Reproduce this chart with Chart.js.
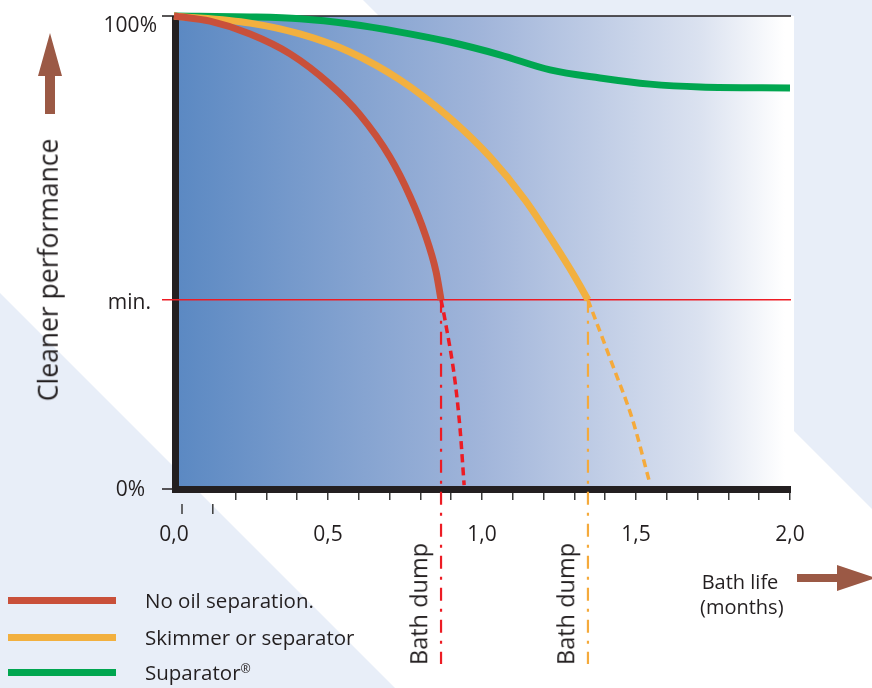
<!DOCTYPE html>
<html>
<head>
<meta charset="utf-8">
<title>Cleaner performance vs bath life</title>
<script src="https://cdn.jsdelivr.net/npm/chart.js@4.4.0/dist/chart.umd.min.js"></script>
<style>
    body { margin: 0; background: #fff; font-family: 'Open Sans', sans-serif; color: #231f20; }
    #wrap { position: relative; width: 872px; height: 688px; overflow: hidden; }
    #chart { position: absolute; left: 0; top: 0; }
    .txt { position: absolute; white-space: nowrap; line-height: 1; }
    .yl { font-size: 21px; transform: translate(-100%, -50%); }
    .rot { transform: translate(-50%, -50%) rotate(-90deg); }
    .swatch { position: absolute; left: 8px; width: 108px; height: 7px; }
    .leg { font-size: 20.5px; transform: translateY(-50%); left: 145px; }
    .reg { font-size: 0.6em; vertical-align: 0.55em; }
</style>
</head>
<body>
<div id="wrap">
    <canvas id="chart" width="872" height="688"></canvas>
    <div class="txt rot" style="left:48px; top:270px; font-size:26.5px;">Cleaner performance</div>
    <div class="txt yl" id="lbl100" style="left:157px;">100%</div>
    <div class="txt yl" id="lblMin" style="left:151px;">min.</div>
    <div class="txt yl" id="lbl0" style="left:145px;">0%</div>
    <div class="txt rot dump" style="top:604px; font-size:23.5px;">Bath dump</div>
    <div class="txt rot dump" style="top:604px; font-size:23.5px;">Bath dump</div>
    <div class="txt" style="left:700px; top:569px; width:80px; font-size:20px; text-align:center; line-height:25px;">Bath life<br>(months)</div>
    <div id="legend"></div>
</div>

<script>
// valores (x em meses, y em % de performance)
const monthLabels = [0, 0.5, 1.0, 1.5, 2.0];
const minLevel = 40;

const noSepMonths = [0, 0.117, 0.247, 0.377, 0.506, 0.604, 0.701, 0.766, 0.815, 0.851, 0.867];
const noSepPerf = [100, 98.9, 96.2, 92.0, 85.6, 79.1, 70.2, 61.9, 53.9, 45.9, 40];
const noSepAfterMonths = [0.867, 0.88, 0.912, 0.929, 0.942];
const noSepAfterPerf = [40, 35.7, 23.0, 12.5, 0.8];

const skimMonths = [0, 0.247, 0.409, 0.571, 0.734, 0.896, 1.026, 1.140, 1.237, 1.302, 1.344];
const skimPerf = [100, 98.5, 96.2, 92.4, 86.5, 78.4, 70.2, 61.1, 51.6, 44.8, 40];
const skimAfterMonths = [1.344, 1.424, 1.489, 1.545];
const skimAfterPerf = [40, 26.2, 14.6, 1.2];

const supMonths = [0, 0.247, 0.409, 0.571, 0.734, 0.896, 1.058, 1.221, 1.383, 1.545, 1.708, 2.0];
const supPerf = [100, 99.8, 99.4, 98.3, 96.6, 94.5, 91.8, 88.6, 86.9, 85.6, 85.0, 84.8];

const dumpMonths = [0.867, 1.344];
const seriesNames = ['No oil separation.', 'Skimmer or separator', 'Suparator®'];
const seriesColors = ['#c9503a', '#f2b03f', '#00a650'];
const dumpColors = ['#ed1c24', '#f5aa3b'];

const pts = (xs, ys) => xs.map((x, i) => ({ x: x, y: ys[i] }));

const decor = {
    id: 'decor',
    beforeDraw(chart) {
        const ctx = chart.ctx;
        const xs = chart.scales.x, ys = chart.scales.y;
        ctx.save();
        ctx.fillStyle = '#fff';
        ctx.fillRect(0, 0, chart.width, chart.height);

        // faixas azul-claro do fundo
        ctx.fillStyle = '#e8eef8';
        ctx.beginPath();
        ctx.moveTo(0, 293); ctx.lineTo(395, 688); ctx.lineTo(0, 688);
        ctx.fill();
        ctx.beginPath();
        ctx.moveTo(363, 0); ctx.lineTo(872, 0); ctx.lineTo(872, 509);
        ctx.fill();

        // área do gráfico em degradê
        const left = xs.getPixelForValue(0) - 2, right = xs.getPixelForValue(2) + 4;
        const top = ys.getPixelForValue(100), bottom = ys.getPixelForValue(0);
        const g = ctx.createLinearGradient(left, 0, right, 0);
        g.addColorStop(0, '#5a88c2');
        g.addColorStop(0.5, '#a1b5da');
        g.addColorStop(0.85, '#dbe2f0');
        g.addColorStop(0.985, '#ffffff');
        g.addColorStop(1, '#ffffff');
        ctx.fillStyle = g;
        ctx.fillRect(left, top, right - left, bottom - top);

        // setas
        ctx.fillStyle = '#9b5945';
        ctx.beginPath();
        ctx.moveTo(50, 33); ctx.lineTo(62, 76); ctx.lineTo(55, 76); ctx.lineTo(55, 114);
        ctx.lineTo(45, 114); ctx.lineTo(45, 76); ctx.lineTo(38, 76);
        ctx.fill();
        ctx.beginPath();
        ctx.moveTo(797, 574); ctx.lineTo(837, 574); ctx.lineTo(837, 565); ctx.lineTo(876, 578);
        ctx.lineTo(837, 591); ctx.lineTo(837, 582); ctx.lineTo(797, 582);
        ctx.fill();
        ctx.restore();
    },
    beforeDatasetsDraw(chart) {
        const ctx = chart.ctx;
        const xs = chart.scales.x, ys = chart.scales.y;
        const x0 = xs.getPixelForValue(0), x2 = xs.getPixelForValue(2);
        const yTop = ys.getPixelForValue(100), yBot = ys.getPixelForValue(0);
        const yMin = ys.getPixelForValue(minLevel);
        ctx.save();
        ctx.strokeStyle = '#231f20';
        ctx.lineWidth = 1.5;
        ctx.beginPath();
        ctx.moveTo(162, yTop); ctx.lineTo(x2 + 1, yTop);
        ctx.moveTo(162, yBot); ctx.lineTo(x0, yBot);
        ctx.stroke();

        // ticks 0,0 e 0,1 deslocados para baixo
        ctx.strokeStyle = '#3b3b3b';
        ctx.beginPath();
        [0, 0.1].forEach(v => {
            const px = xs.getPixelForValue(v) + 8;
            ctx.moveTo(px, yBot + 15); ctx.lineTo(px, yBot + 25);
        });
        ctx.stroke();

        ctx.fillStyle = '#231f20';
        ctx.fillRect(x0 - 2, yTop, 7, yBot - yTop + 4);
        ctx.fillRect(x0 - 2, yBot - 3, x2 - x0 + 3, 7);

        // linha do mínimo
        ctx.strokeStyle = '#ed1c24';
        ctx.lineWidth = 1.5;
        ctx.beginPath();
        ctx.moveTo(162, yMin); ctx.lineTo(x2 + 1, yMin);
        ctx.stroke();

        // linhas verticais "Bath dump"
        ctx.lineWidth = 2.2;
        ctx.setLineDash([13, 8, 3, 8]);
        dumpMonths.forEach((m, i) => {
            const px = xs.getPixelForValue(m);
            ctx.strokeStyle = dumpColors[i];
            ctx.beginPath();
            ctx.moveTo(px, yMin); ctx.lineTo(px, 664);
            ctx.stroke();
        });
        ctx.restore();
    }
};

const solid = (data, color) => ({
    data: data, borderColor: color, borderWidth: 7, pointRadius: 0, fill: false,
    cubicInterpolationMode: 'monotone', borderCapStyle: 'butt', clip: false
});
const dashed = (data, color) => ({
    data: data, borderColor: color, borderWidth: 3.5, borderDash: [8, 5], pointRadius: 0,
    fill: false, cubicInterpolationMode: 'monotone', borderCapStyle: 'butt', clip: false
});

window.onload = function () {
    const ctx = document.getElementById('chart').getContext('2d');

    const chart = new Chart(ctx, {
        type: 'line',
        data: {
            datasets: [
                Object.assign(solid(pts(noSepMonths, noSepPerf), seriesColors[0]), { label: seriesNames[0] }),
                Object.assign(solid(pts(skimMonths, skimPerf), seriesColors[1]), { label: seriesNames[1] }),
                Object.assign(solid(pts(supMonths, supPerf), seriesColors[2]), { label: seriesNames[2] }),
                Object.assign(dashed(pts(noSepAfterMonths, noSepAfterPerf), dumpColors[0]), { label: 'after dump 1' }),
                Object.assign(dashed(pts(skimAfterMonths, skimAfterPerf), dumpColors[1]), { label: 'after dump 2' })
            ]
        },
        options: {
            responsive: false,
            animation: false,
            devicePixelRatio: 1,
            layout: { padding: { left: 174, right: 82, top: 16, bottom: 139 } },
            plugins: {
                legend: { display: false },
                tooltip: { enabled: false }
            },
            scales: {
                x: {
                    type: 'linear',
                    min: 0,
                    max: 2,
                    afterFit: s => { s.height = 60; },
                    border: { display: false },
                    grid: {
                        drawOnChartArea: false,
                        drawTicks: true,
                        tickLength: 11,
                        lineWidth: 1.5,
                        color: c => c.index < 2 ? 'rgba(0,0,0,0)' : '#3b3b3b'
                    },
                    ticks: {
                        stepSize: 0.1,
                        autoSkip: false,
                        maxRotation: 0,
                        padding: 22,
                        color: '#231f20',
                        font: { family: 'Open Sans', size: 21 },
                        callback: v => monthLabels.some(t => Math.abs(t - v) < 1e-6) ? v.toFixed(1).replace('.', ',') : ''
                    }
                },
                y: { display: false, min: 0, max: 100 }
            }
        },
        plugins: [decor]
    });

    // rótulos do eixo y e "Bath dump" posicionados pelas escalas
    const xs = chart.scales.x, ys = chart.scales.y;
    document.getElementById('lbl100').style.top = (ys.getPixelForValue(100) + 8) + 'px';
    document.getElementById('lblMin').style.top = (ys.getPixelForValue(minLevel) + 1) + 'px';
    document.getElementById('lbl0').style.top = (ys.getPixelForValue(0) - 1) + 'px';
    document.querySelectorAll('.dump').forEach((el, i) => {
        el.style.left = (xs.getPixelForValue(dumpMonths[i]) - 22) + 'px';
    });

    // legenda
    const legend = document.getElementById('legend');
    const legendY = [600, 637, 672];
    seriesNames.forEach((name, i) => {
        const sw = document.createElement('div');
        sw.className = 'swatch';
        sw.style.top = (legendY[i] - 3.5) + 'px';
        sw.style.background = seriesColors[i];
        legend.appendChild(sw);
        const t = document.createElement('div');
        t.className = 'txt leg';
        t.style.top = legendY[i] + 'px';
        // ® menor e elevado, como no original
        name.split('®').forEach((part, j) => {
            if (j > 0) {
                const r = document.createElement('span');
                r.className = 'reg';
                r.textContent = '®';
                t.appendChild(r);
            }
            t.appendChild(document.createTextNode(part));
        });
        legend.appendChild(t);
    });
};
</script>
</body>
</html>
